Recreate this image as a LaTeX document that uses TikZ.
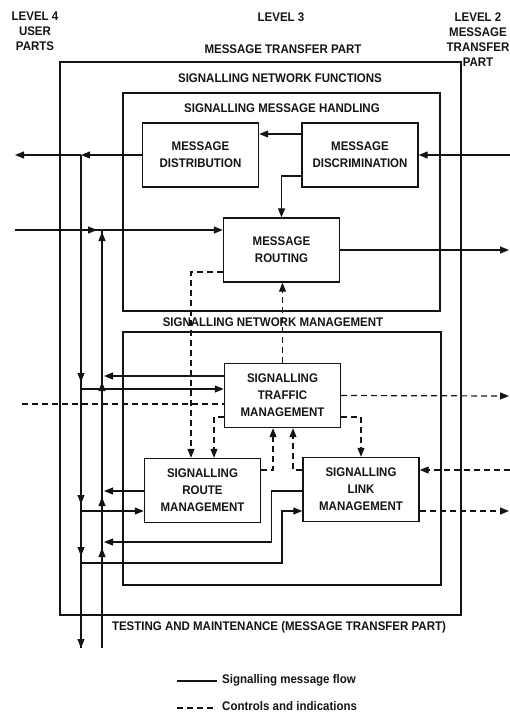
\documentclass[tikz,border=0pt]{standalone}
\usepackage{fontspec}
\setmainfont{Liberation Sans}[FakeStretch=0.92]
\usepackage{tikz}
\usetikzlibrary{arrows.meta}
\definecolor{sigink}{RGB}{20,20,20}
\tikzset{
  sigbox/.style={draw=sigink, line width=1.4pt, align=center, minimum width=116pt,
    minimum height=64pt, inner sep=2pt, text=sigink,
    font=\fontsize{12.5}{17}\selectfont\bfseries},
  sigframe/.style={draw=sigink, line width=1.4pt, inner sep=0pt},
  siglabel/.style={align=center, inner sep=1pt, text=sigink,
    font=\fontsize{12.5}{15}\selectfont\bfseries},
  sigline/.style={line width=1.2pt, draw=sigink},
  sigflow/.style={sigline, -{Triangle[length=9pt,width=7pt]}},
  sigdash/.style={sigline, dash pattern=on 6pt off 4pt},
  sigctrl/.style={sigdash, -{Triangle[length=9pt,width=7pt]}}
}

\begin{document}
\begin{tikzpicture}[x=1pt,y=-1pt]
  \useasboundingbox (0,0) rectangle (510,713);
  \node[sigframe, minimum width=401pt, minimum height=553pt] (mtp) at (260.5,338.5) {};
  \node[sigframe, minimum width=317pt, minimum height=218pt] (smh) at (281.5,202) {};
  \node[sigframe, minimum width=318pt, minimum height=253pt] (snm) at (282,458.5) {};
  \node[siglabel] (lvlFour) at (35,31.5) {LEVEL 4\\USER\\PARTS};
  \node[siglabel] (lvlThree) at (281,17) {LEVEL 3};
  \node[siglabel] (mtpTitle) at (283,49) {MESSAGE TRANSFER PART};
  \node[siglabel] (lvlTwo) at (478,39.5) {LEVEL 2\\MESSAGE\\TRANSFER\\PART};
  \node[siglabel] (snfTitle) at (280,78) {SIGNALLING NETWORK FUNCTIONS};
  \node[siglabel] (smhTitle) at (282,108) {SIGNALLING MESSAGE HANDLING};
  \node[siglabel] (snmTitle) at (273,322) {SIGNALLING NETWORK MANAGEMENT};
  \node[siglabel] (tmTitle) at (279,627) {TESTING AND MAINTENANCE (MESSAGE TRANSFER PART)};
  \node[sigbox] (dist) at (200.5,155) {MESSAGE\\DISTRIBUTION};
  \node[sigbox] (disc) at (360,155) {MESSAGE\\DISCRIMINATION};
  \node[sigbox] (rout) at (281.5,250) {MESSAGE\\ROUTING};
  \node[sigbox] (traf) at (282.5,395.5) {SIGNALLING\\TRAFFIC\\MANAGEMENT};
  \node[sigbox] (route) at (202.5,490.5) {SIGNALLING\\ROUTE\\MANAGEMENT};
  \node[sigbox] (link) at (361,489.5) {SIGNALLING\\LINK\\MANAGEMENT};
  \coordinate (inL) at (15,230);
  \coordinate (outL) at (15,155);
  \coordinate (inT) at (22,404);
  \coordinate (inR) at (510,155);
  \coordinate (outR) at (509,250);
  \coordinate (outT) at (509,396);
  \coordinate (inK) at (510,470);
  \coordinate (outK) at (509,511);
  \coordinate (jD0) at (81,155);
  \coordinate (jL1) at (81,389);
  \coordinate (jL2) at (81,511);
  \coordinate (jL3) at (81,563);
  \coordinate (endL) at (81,648);
  \coordinate (jR0) at (102,230);
  \coordinate (jR1) at (102,376);
  \coordinate (jR2) at (102,491);
  \coordinate (jR3) at (102,542);
  \coordinate (endR) at (102,648);
  \coordinate (lkBend) at (282,511);
  \draw[sigflow] (inR) -- (disc.east);
  \draw[sigflow] ([yshift=21pt]disc.west) -- ([yshift=21pt]dist.east);
  \draw[sigflow] ([yshift=-21pt]disc.west) -| (rout.north);
  \draw[sigflow] (dist.west) -- (jD0);
  \draw[sigflow] (jD0) -- (outL);
  \draw[sigflow] (inL) -- (jR0 -| rout.west);
  \draw[sigflow, shorten >=5pt] (inL) -- (jR0);
  \draw[sigflow] (rout.east) -- (outR);
  \draw[sigline] (jD0) -- (endL);
  \draw[sigflow, shorten >=7pt] (jD0) -- (jL1);
  \draw[sigflow, shorten >=7pt] (jL1) -- (jL2);
  \draw[sigflow, shorten >=7pt] (jL2) -- (jL3);
  \draw[sigflow] (jL3) -- (endL);
  \draw[sigline] (endR) -- (jR0);
  \draw[sigflow, shorten >=2pt] (jR1) -- (jR0);
  \draw[sigflow, shorten >=6pt] (jR2) -- (jR1);
  \draw[sigflow, shorten >=6pt] (jR3) -- (jR2);
  \draw[sigflow, shorten >=6pt] (endR) -- (jR3);
  \draw[sigflow] (jL1) -- (jL1 -| traf.west);
  \draw[sigflow, shorten >=2pt] (jR1 -| traf.west) -- (jR1);
  \draw[sigflow] (jL2) -- (jL2 -| route.west);
  \draw[sigflow, shorten >=2pt] (jR2 -| route.west) -- (jR2);
  \draw[sigflow] (jL3) -| (lkBend) -- (lkBend -| link.west);
  \draw[sigflow, shorten >=2pt] (jR2 -| link.west) -- ++(-31,0) |- (jR3);
  \draw[sigctrl] (traf.north) -- (traf.north |- rout.south);
  \draw[sigctrl] ([yshift=-22pt]rout.west) -| ([xshift=-11.5pt]route.north);
  \draw[sigctrl] ([yshift=-21.5pt]traf.west) -| ([xshift=11.5pt]route.north);
  \draw[sigctrl] ([yshift=-21.5pt]traf.east) -| (link.north);
  \draw[sigctrl] ([yshift=20.5pt]route.east) -| ([xshift=-9.5pt]traf.south);
  \draw[sigctrl] ([yshift=19.5pt]link.west) -| ([xshift=10.5pt]traf.south);
  \draw[sigctrl] (traf.east) -- (outT);
  \draw[sigdash] (inT) -- (inT -| traf.west);
  \draw[sigctrl] (inK) -- (inK -| link.east);
  \draw[sigctrl] (outK -| link.east) -- (outK);
  \coordinate (lgA) at (177,681);
  \coordinate (lgB) at (217,681);
  \coordinate (lgC) at (177,708);
  \coordinate (lgD) at (217,708);
  \draw[sigline] (lgA) -- (lgB);
  \draw[sigdash] (lgC) -- (lgD);
  \node[siglabel, anchor=west] (lgFlow) at (221,680) {Signalling message flow};
  \node[siglabel, anchor=west] (lgCtrl) at (221,706) {Controls and indications};
\end{tikzpicture}
\end{document}
